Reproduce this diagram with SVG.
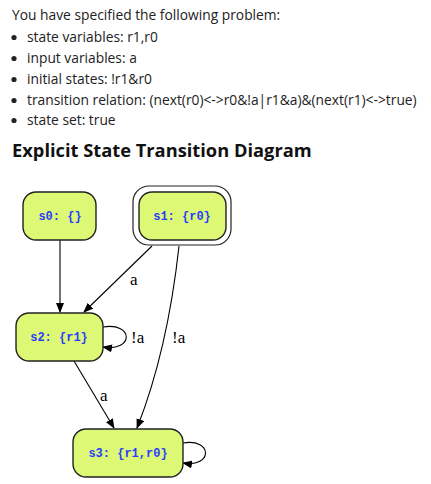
<svg xmlns="http://www.w3.org/2000/svg" width="431" height="484" viewBox="0 0 431 484">
<defs>
<style>
.t{font-family:"Open Sans","Noto Sans",sans-serif;font-size:13.8px;fill:#222}
.h{font-family:"Open Sans","Noto Sans",sans-serif;font-size:18.3px;font-weight:bold;fill:#111}
.n{fill:#ddf874;stroke:#222;stroke-width:1.4}
.o{fill:none;stroke:#222;stroke-width:1.2}
.nt{font-family:"Liberation Mono","Courier New",monospace;font-size:12px;font-weight:bold;fill:#2a3cff;text-anchor:middle}
.e{fill:none;stroke:#000;stroke-width:1.1}
.l{font-family:"Liberation Serif","Times New Roman",serif;font-size:17px;fill:#000}
</style>
<marker id="ah" markerWidth="10" markerHeight="8" refX="9" refY="4" orient="auto" markerUnits="userSpaceOnUse">
<path d="M0,0 L10,4 L0,8 z" fill="#000"/>
</marker>
</defs>
<g id="text">
<text class="t" x="12" y="20">You have specified the following problem:</text>
<circle cx="14" cy="37.5" r="2.6" fill="#222"/><text class="t" x="27" y="42">state variables: r1,r0</text>
<circle cx="14" cy="58.5" r="2.6" fill="#222"/><text class="t" x="27" y="63">input variables: a</text>
<circle cx="14" cy="79.5" r="2.6" fill="#222"/><text class="t" x="27" y="84">initial states: !r1&amp;r0</text>
<circle cx="14" cy="100.5" r="2.6" fill="#222"/><text class="t" x="27" y="105">transition relation: (next(r0)&lt;-&gt;r0&amp;!a|r1&amp;a)&amp;(next(r1)&lt;-&gt;true)</text>
<circle cx="14" cy="120.5" r="2.6" fill="#222"/><text class="t" x="27" y="125">state set: true</text>
<text class="h" x="12" y="157">Explicit State Transition Diagram</text>
</g>
<g id="edges">
<path class="e" d="M60,240 L60,312" marker-end="url(#ah)"/>
<path class="e" d="M152,246 L84,312" marker-end="url(#ah)"/>
<text class="l" x="130" y="285">a</text>
<path class="e" d="M179,246 C172,310 160,370 137,428" marker-end="url(#ah)"/>
<text class="l" x="172" y="343">!a</text>
<path class="e" d="M103,327 C134,322 134,352 103,347" marker-end="url(#ah)"/>
<text class="l" x="131" y="343">!a</text>
<path class="e" d="M74,361 L114,428" marker-end="url(#ah)"/>
<text class="l" x="100" y="401">a</text>
<path class="e" d="M183,443 C213,438 213,468 183,463" marker-end="url(#ah)"/>
</g>
<g id="s0">
<rect class="n" x="23" y="192" width="73" height="48" rx="13"/>
<text class="nt" x="60" y="220">s0: {}</text>
</g>
<g id="s1">
<rect class="o" x="133" y="186" width="98" height="59" rx="16"/>
<rect class="n" x="139" y="192" width="87" height="48" rx="13"/>
<text class="nt" x="182" y="220">s1: {r0}</text>
</g>
<g id="s2">
<rect class="n" x="16" y="313" width="87" height="48" rx="13"/>
<text class="nt" x="59" y="341">s2: {r1}</text>
</g>
<g id="s3">
<rect class="n" x="73" y="429" width="110" height="48" rx="13"/>
<text class="nt" x="128" y="457">s3: {r1,r0}</text>
</g>
</svg>
